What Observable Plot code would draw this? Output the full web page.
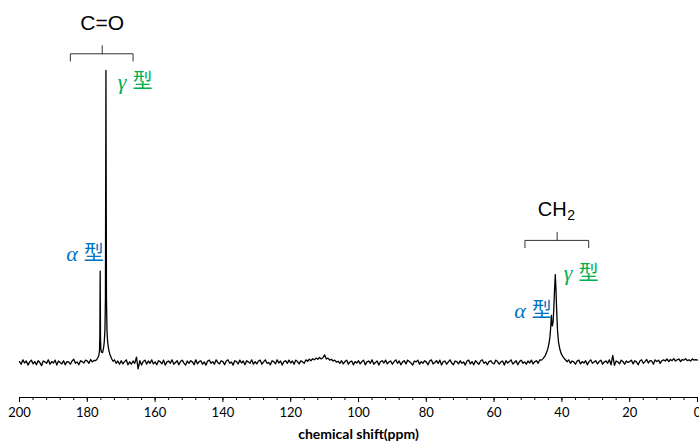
<!DOCTYPE html>
<html><head><meta charset="utf-8">
<script src="https://cdn.jsdelivr.net/npm/d3@7"></script>
<script src="https://cdn.jsdelivr.net/npm/@observablehq/plot@0.6"></script>
<style>body{margin:0;background:#fff}</style>
</head><body><div id="chart"></div>
<script>
// baseline noise, read every 0.5 ppm from 200 down to 0
const ppmStart = 200, ppmStep = 0.5;
const baselineNoise = [
 0.3,-0.6,0.9,-0.2,0.5,-0.9,0.2,0.8,-0.5,0.3,-0.8,0.6,0.0,-1.1,0.5,0.2,-0.3,0.9,-0.6,0.3,
 -0.2,0.8,-0.9,0.5,0.0,-0.5,0.6,-0.8,0.3,0.2,-0.6,0.5,1.1,-0.3,0.2,-0.8,0.6,0.3,-0.2,0.8,
 0.5,-0.3,1.0,0.2,0.7,-0.2,1.2,0.9,1.4,1.6,1.8,1.5,1.3,1.2,1.0,1.1,0.9,-0.3,0.5,-0.6,
 0.6,-0.5,0.3,0.9,-0.8,0.2,-0.6,0.5,-0.3,1.8,-2.2,0.6,-0.9,0.3,0.8,-0.6,0.5,-0.3,0.9,-0.5,
 0.2,-0.8,0.6,0.3,-0.5,0.8,-0.9,0.2,0.5,-0.3,0.9,-0.6,0.0,0.6,-0.8,0.3,0.8,-0.2,-0.9,0.5,
 -0.3,0.6,0.2,-0.8,0.9,-0.5,0.3,0.6,-0.6,0.2,-0.9,0.5,0.8,-0.3,0.3,-0.6,0.9,0.0,-0.5,0.6,
 0.3,-0.8,0.5,0.9,-0.3,0.2,-0.9,0.6,0.3,-0.5,0.8,-0.2,0.5,-0.8,0.6,0.2,-0.3,0.9,-0.6,0.3,
 -0.5,0.5,0.8,-0.6,0.2,0.9,-0.3,0.0,-0.8,0.6,0.3,-0.5,0.9,-0.2,0.5,-0.9,0.3,0.6,-0.3,0.8,
 -0.2,0.5,-0.6,0.8,0.3,-0.5,0.6,0.2,-0.3,0.9,0.4,1.1,0.6,1.3,0.9,1.5,1.1,1.7,1.2,1.6,
 2.6,1.2,1.5,0.8,1.1,0.5,0.8,0.1,0.4,-0.3,0.6,-0.5,0.3,0.8,-0.6,0.2,0.5,-0.8,0.3,-0.2,
 0.6,-0.5,0.3,0.8,-0.8,0.2,0.5,-0.3,0.9,-0.6,0.0,0.5,-0.9,0.3,0.6,-0.2,0.8,-0.5,0.2,0.5,
 -0.6,0.3,0.9,-0.3,0.5,-0.8,0.2,0.6,-0.5,0.8,0.3,-0.2,-0.9,0.5,0.2,0.8,-0.6,0.3,-0.3,0.6,
 0.2,-0.8,0.5,0.9,-0.5,0.0,0.6,-0.3,0.8,-0.9,0.3,0.5,-0.6,0.2,0.9,-0.2,-0.8,0.5,0.3,-0.5,
 0.6,-0.3,0.2,-0.9,0.5,0.8,-0.5,0.3,-0.8,0.6,0.0,-0.6,0.5,0.9,-0.3,0.2,-0.8,0.3,0.6,-0.2,
 -0.5,0.8,0.3,-0.6,0.2,0.5,-0.9,0.6,-0.2,0.3,0.9,-0.5,0.0,0.6,-0.8,0.3,0.8,-0.3,0.2,-0.6,
 0.5,-0.2,0.8,-0.5,0.3,0.6,-0.3,0.9,0.6,0.2,0.5,-0.3,0.8,0.2,-0.5,0.6,0.3,-0.2,0.5,0.8,
 0.3,-0.2,0.6,0.2,0.9,-0.3,0.5,0.2,-0.6,0.5,0.8,-0.5,0.3,-0.2,0.6,-0.8,0.3,0.9,-0.3,0.2,
 0.6,-0.5,0.3,0.8,-0.6,0.2,0.5,-0.3,0.9,-0.8,2.4,-1.0,0.5,0.2,-0.5,0.8,0.3,-0.6,0.5,0.0,
 0.3,0.8,-0.5,0.6,0.2,-0.8,0.5,0.9,-0.3,0.3,1.0,-0.2,0.6,0.5,-0.6,0.9,0.3,0.8,-0.3,0.6,
 0.9,0.5,1.2,0.3,1.0,0.6,1.3,0.5,0.9,1.2,0.3,1.0,0.8,1.3,0.6,0.9,0.5,1.2,0.8,1.0,
 0.8
];
// C=O peaks (alpha 176.2, gamma 174.5)
const coPeakPpm = [177.6,177.2,176.9,176.6,176.4,176.3,176.2,176.1,176.0,175.8,175.5,175.2,175.0,174.8,174.65,174.5,174.35,174.2,174.0,173.7,173.4,173.0,172.7,172.4];
const coPeakInt = [0.6,1.0,1.6,2.4,4.0,9,31.3,8,4.5,3.5,3.4,5,7,11,22,100,22,11,7,4.5,3,1.8,1.0,0.4];
// CH2 peaks (alpha 43.1, gamma 41.95)
const ch2PeakPpm = [46.0,45.5,45.0,44.6,44.2,43.8,43.5,43.3,43.1,42.95,42.8,42.6,42.4,42.2,41.95,41.75,41.55,41.3,41.0,40.6,40.2,39.7,39.2,38.6];
const ch2PeakInt = [0.8,1.4,2.2,3.2,4.5,6.5,9,12,16.1,13,12.5,14,18,24,30.1,25,18,11,7,4.5,3.0,2.0,1.2,0.5];

const majorTicks = [200,180,160,140,120,100,80,60,40,20,0];
const minorTicks = [200,196,192,188,184,180,176,172,168,164,160,156,152,148,144,140,136,132,128,124,120,116,112,108,104,100,96,92,88,84,80,76,72,68,64,60,56,52,48,44,40,36,32,28,24,20,16,12,8,4,0];
const axisTitle = "chemical shift(ppm)";

// group annotations
const groupNames = ["C=O", "CH"];
const groupSub = ["", "2"];
const groupCenter = [175.6, 41.4];
const groupTextAt = [175.6, 38.6];
const groupLeft = [185.0, 50.9];
const groupRight = [166.5, 32.1];
const braceLevel = [105.7, 41.8];
const labelLevel = [116.3, 52.4];
// crystal form labels
const formGreek = ["γ", "α", "γ", "α"];
const formKanji = ["型", "型", "型", "型"];
const formPpm = [167.55, 181.9, 36.0, 49.76];
const formLevel = [96.2, 37.3, 30.5, 17.8];
const formColor = ["#00B050", "#0070C0", "#00B050", "#0070C0"];

const yDomain = [-12, 117.1];

function inPeak(p) { return (p >= 172.4 && p <= 177.6) || (p >= 38.6 && p <= 46.0); }
const spectrum = [];
baselineNoise.forEach((v, i) => { const ppm = ppmStart - i * ppmStep; if (!inPeak(ppm)) spectrum.push({ppm, int: v}); });
coPeakPpm.forEach((p, i) => spectrum.push({ppm: p, int: coPeakInt[i]}));
ch2PeakPpm.forEach((p, i) => spectrum.push({ppm: p, int: ch2PeakInt[i]}));
spectrum.sort((a, b) => b.ppm - a.ppm);

const braces = [];
groupNames.forEach((g, i) => {
  const lv = braceLevel[i], drop = 2.5, tip = 2.8;
  braces.push({g: g + "h", ppm: groupLeft[i], int: lv - drop});
  braces.push({g: g + "h", ppm: groupLeft[i], int: lv});
  braces.push({g: g + "h", ppm: groupRight[i], int: lv});
  braces.push({g: g + "h", ppm: groupRight[i], int: lv - drop});
  braces.push({g: g + "t", ppm: groupCenter[i], int: lv});
  braces.push({g: g + "t", ppm: groupCenter[i], int: lv + tip});
});

const chart = Plot.plot({
  width: 699, height: 443,
  marginLeft: 19, marginRight: 2, marginTop: 20, marginBottom: 46,
  x: {domain: [200, 0], label: null},
  y: {domain: yDomain, axis: null},
  style: {fontFamily: "Lato, sans-serif", fontSize: "13px", color: "black", background: "white"},
  marks: [
    Plot.ruleY([yDomain[0]], {stroke: "black", strokeWidth: 1}),
    Plot.axisX(minorTicks, {anchor: "bottom", tickSize: 3, tickFormat: () => "", label: null}),
    Plot.axisX(majorTicks, {anchor: "bottom", tickSize: 5, tickPadding: 5, label: null, fontSize: 13}),
    Plot.text([axisTitle], {frameAnchor: "bottom", dy: 41, fontWeight: "bold", fontSize: 14}),
    Plot.line(spectrum, {x: "ppm", y: "int", stroke: "black", strokeWidth: 1.3}),
    Plot.line(braces, {x: "ppm", y: "int", z: "g", stroke: "#333", strokeWidth: 1}),
    Plot.text([groupNames[0]], {x: [groupTextAt[0]], y: [labelLevel[0]], text: d => d,
      fontFamily: "Liberation Sans, Arial, sans-serif", fontSize: 21, fill: "black"}),
    Plot.text([groupNames[1]], {x: [groupTextAt[1]], y: [labelLevel[1]], text: d => d, textAnchor: "end",
      fontFamily: "Liberation Sans, Arial, sans-serif", fontSize: 20, fill: "black"}),
    Plot.text([groupSub[1]], {x: [groupTextAt[1]], y: [labelLevel[1]], text: d => d, textAnchor: "start",
      dx: 0.5, dy: 6, fontFamily: "Liberation Sans, Arial, sans-serif", fontSize: 14, fill: "black"}),
    Plot.text(formGreek, {x: (d, i) => formPpm[i], y: (d, i) => formLevel[i], text: d => d,
      fill: (d, i) => formColor[i], textAnchor: "end", dx: -3, fontSize: 22, fontStyle: "italic",
      fontFamily: "Liberation Serif, DejaVu Serif, serif"}),
    Plot.text(formKanji, {x: (d, i) => formPpm[i], y: (d, i) => formLevel[i], text: d => d,
      fill: (d, i) => formColor[i], textAnchor: "start", dx: 3, fontSize: 20,
      fontFamily: "Noto Sans CJK JP, sans-serif"})
  ]
});
document.getElementById("chart").append(chart);
</script>
</body></html>
